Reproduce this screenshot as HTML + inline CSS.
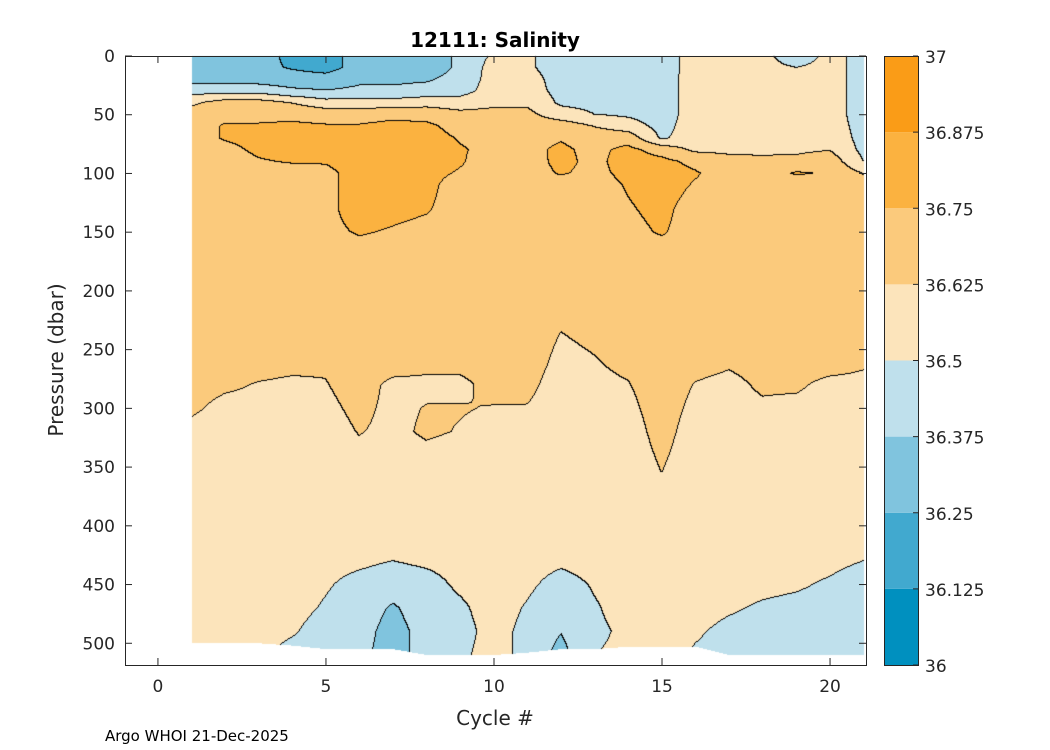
<!DOCTYPE html>
<html><head><meta charset="utf-8"><style>
body{margin:0;background:#fff;width:1050px;height:750px;overflow:hidden;position:relative;font-family:"DejaVu Sans","Liberation Sans",sans-serif}
canvas,svg{position:absolute;left:0;top:0}
svg text{font-family:"DejaVu Sans","Liberation Sans",sans-serif}
</style></head><body>
<canvas id="cv" width="1050" height="750"></canvas>
<svg id="sv" width="1050" height="750"></svg>
<script>
const pressures=[0,10,20,30,40,50,60,70,80,90,100,110,130,150,170,200,230,260,280,300,320,340,360,400,430,450,470,490,510];
const cycles=[1,2,3,4,5,6,7,8,9,10,11,12,13,14,15,16,17,18,19,20,21];
const maxPressure=[500,500,500,502,505,505,505,510,510,510,508,505,505,503,503,503,510,510,510,510,510];
const salinity=[
[36.3,36.3,36.32,36.45,36.6,36.68,36.7,36.7,36.72,36.72,36.7,36.7,36.7,36.7,36.7,36.7,36.7,36.68,36.66,36.64,36.6,36.58,36.57,36.56,36.56,36.56,36.55,36.54,36.54],
[36.3,36.3,36.32,36.45,36.68,36.72,36.76,36.76,36.72,36.7,36.7,36.7,36.7,36.7,36.7,36.7,36.7,36.67,36.64,36.6,36.58,36.57,36.56,36.56,36.56,36.56,36.55,36.54,36.54],
[36.3,36.28,36.32,36.45,36.68,36.72,36.76,36.78,36.77,36.74,36.7,36.7,36.7,36.7,36.7,36.7,36.7,36.66,36.62,36.6,36.58,36.57,36.56,36.56,36.56,36.55,36.54,36.53,36.52],
[36.22,36.24,36.3,36.4,36.62,36.72,36.77,36.78,36.8,36.76,36.7,36.7,36.7,36.7,36.7,36.7,36.7,36.65,36.61,36.6,36.58,36.57,36.56,36.56,36.55,36.54,36.53,36.51,36.47],
[36.2,36.2,36.3,36.38,36.55,36.7,36.76,36.78,36.78,36.76,36.72,36.72,36.72,36.72,36.7,36.7,36.7,36.64,36.62,36.6,36.58,36.57,36.56,36.55,36.53,36.51,36.49,36.46,36.44],
[36.3,36.3,36.35,36.4,36.55,36.7,36.76,36.78,36.8,36.8,36.8,36.8,36.8,36.76,36.7,36.7,36.7,36.68,36.67,36.65,36.63,36.6,36.58,36.56,36.52,36.47,36.44,36.42,36.4],
[36.28,36.3,36.35,36.4,36.55,36.72,36.78,36.8,36.8,36.8,36.8,36.8,36.78,36.74,36.7,36.7,36.7,36.68,36.6,36.6,36.6,36.58,36.57,36.55,36.5,36.44,36.36,36.33,36.33],
[36.3,36.3,36.36,36.42,36.58,36.7,36.78,36.8,36.8,36.8,36.78,36.78,36.76,36.72,36.7,36.7,36.7,36.66,36.6,36.63,36.64,36.6,36.58,36.56,36.52,36.46,36.44,36.42,36.42],
[36.4,36.4,36.42,36.45,36.56,36.66,36.7,36.74,36.76,36.76,36.74,36.7,36.7,36.7,36.7,36.7,36.7,36.66,36.6,36.63,36.62,36.58,36.57,36.56,36.54,36.52,36.48,36.46,36.48],
[36.52,36.55,36.55,36.56,36.6,36.66,36.7,36.72,36.72,36.7,36.7,36.7,36.7,36.7,36.7,36.7,36.7,36.68,36.66,36.62,36.6,36.58,36.57,36.56,36.56,36.56,36.55,36.54,36.54],
[36.52,36.52,36.55,36.56,36.6,36.66,36.7,36.72,36.72,36.7,36.7,36.7,36.7,36.7,36.7,36.7,36.68,36.67,36.65,36.62,36.6,36.58,36.57,36.56,36.54,36.52,36.49,36.47,36.47],
[36.44,36.44,36.45,36.46,36.48,36.55,36.7,36.74,36.77,36.78,36.76,36.7,36.7,36.7,36.7,36.68,36.63,36.6,36.58,36.57,36.57,36.56,36.56,36.56,36.52,36.46,36.42,36.38,36.33],
[36.44,36.44,36.44,36.45,36.47,36.5,36.62,36.7,36.72,36.72,36.72,36.7,36.7,36.7,36.7,36.69,36.65,36.62,36.6,36.58,36.57,36.56,36.56,36.56,36.54,36.51,36.49,36.48,36.5],
[36.44,36.44,36.44,36.44,36.45,36.48,36.56,36.7,36.78,36.8,36.78,36.76,36.74,36.72,36.7,36.7,36.68,36.65,36.62,36.6,36.58,36.57,36.56,36.56,36.56,36.55,36.54,36.52,36.52],
[36.44,36.44,36.44,36.44,36.44,36.44,36.46,36.48,36.7,36.78,36.8,36.8,36.78,36.76,36.7,36.7,36.7,36.7,36.68,36.67,36.66,36.64,36.62,36.58,36.57,36.56,36.55,36.54,36.54],
[36.55,36.55,36.56,36.56,36.56,36.56,36.56,36.57,36.6,36.72,36.76,36.74,36.7,36.7,36.7,36.7,36.7,36.66,36.62,36.6,36.58,36.57,36.56,36.56,36.55,36.54,36.53,36.51,36.49],
[36.56,36.56,36.56,36.56,36.56,36.56,36.57,36.58,36.6,36.66,36.7,36.7,36.7,36.7,36.7,36.7,36.7,36.64,36.6,36.59,36.58,36.57,36.56,36.56,36.54,36.53,36.51,36.48,36.47],
[36.56,36.56,36.56,36.56,36.56,36.56,36.57,36.58,36.6,36.65,36.7,36.7,36.7,36.7,36.7,36.7,36.7,36.66,36.64,36.61,36.59,36.57,36.56,36.56,36.54,36.52,36.49,36.47,36.46],
[36.38,36.5,36.56,36.56,36.56,36.56,36.57,36.58,36.6,36.66,36.76,36.7,36.7,36.7,36.7,36.7,36.7,36.67,36.64,36.6,36.58,36.57,36.56,36.56,36.53,36.51,36.48,36.46,36.46],
[36.56,36.56,36.56,36.56,36.56,36.56,36.57,36.58,36.62,36.7,36.74,36.7,36.7,36.7,36.7,36.7,36.7,36.67,36.6,36.59,36.58,36.57,36.56,36.56,36.52,36.49,36.47,36.46,36.46],
[36.44,36.44,36.44,36.44,36.44,36.44,36.45,36.46,36.47,36.5,36.62,36.66,36.68,36.7,36.7,36.7,36.7,36.64,36.6,36.59,36.58,36.57,36.56,36.55,36.5,36.46,36.45,36.45,36.45]
];
const levels=[36,36.125,36.25,36.375,36.5,36.625,36.75,36.875,37];
const levelLabels=["36","36.125","36.25","36.375","36.5","36.625","36.75","36.875","37"];
const xTicks=[0,5,10,15,20];
const yTicks=[0,50,100,150,200,250,300,350,400,450,500];
const colors=["#0090bf","#41a9cf","#80c4de","#bfe0ec","#fce4bb","#fbca7c","#fbb240","#fa9c17"];

const L=125,T=56,W=741,H=609;
const xMin=-0.98,xMax=21.07,yMin=0,yMax=518.5;
const sx=v=>L+(v-xMin)/(xMax-xMin)*W;
const sy=v=>T+(v-yMin)/(yMax-yMin)*H;
const ix=px=>xMin+(px-L)/W*(xMax-xMin);
const iy=py=>yMin+(py-T)/H*(yMax-yMin);

function sample(c,p){
  if(c<cycles[0]||c>cycles[cycles.length-1])return NaN;
  let i=Math.min(Math.floor(c-cycles[0]),cycles.length-2);let fx=c-cycles[i];
  const mp=maxPressure[i]*(1-fx)+maxPressure[i+1]*fx;
  if(p>mp)return NaN;
  let j=0;while(j<pressures.length-2&&pressures[j+1]<p)j++;
  let fy=(p-pressures[j])/(pressures[j+1]-pressures[j]);fy=Math.max(0,Math.min(1,fy));
  const a=salinity[i][j],b=salinity[i+1][j],c2=salinity[i][j+1],d=salinity[i+1][j+1];
  return (a*(1-fx)+b*fx)*(1-fy)+(c2*(1-fx)+d*fx)*fy;
}
function lev(v){if(isNaN(v))return -1;let k=0;while(k<7&&v>=levels[k+1])k++;return k;}
const cv=document.getElementById('cv'),ctx=cv.getContext('2d');
const img=ctx.createImageData(W,H);
const map=new Int8Array(W*H);
for(let y=0;y<H;y++)for(let x=0;x<W;x++)map[y*W+x]=lev(sample(ix(L+x+0.5),iy(T+y+0.5)));
const rgb=colors.map(h=>[parseInt(h.slice(1,3),16),parseInt(h.slice(3,5),16),parseInt(h.slice(5,7),16)]);
for(let y=0;y<H;y++)for(let x=0;x<W;x++){
  const k=map[y*W+x];let c=[255,255,255];
  if(k>=0){c=rgb[k];
    const r=x<W-1?map[y*W+x+1]:k,d=y<H-1?map[(y+1)*W+x]:k;
    if((r>=0&&r!==k)||(d>=0&&d!==k))c=[0,0,0];}
  const o=(y*W+x)*4;img.data[o]=c[0];img.data[o+1]=c[1];img.data[o+2]=c[2];img.data[o+3]=255;
}
ctx.putImageData(img,L,T);

const NS="http://www.w3.org/2000/svg",sv=document.getElementById('sv');
function el(t,a,txt){const e=document.createElementNS(NS,t);for(const k in a)e.setAttribute(k,a[k]);if(txt!==undefined)e.textContent=txt;sv.appendChild(e);return e;}
let e;
e=el('rect',{x:L+0.5,y:T+0.5,width:W,height:H,fill:'none',stroke:'#262626','stroke-width':1});


xTicks.forEach(v=>{const x=sx(v);
  e=el('line',{x1:x,y1:T+H,x2:x,y2:T+H-7,stroke:'#262626'});
  
  
  e=el('line',{x1:x,y1:T,x2:x,y2:T+7,stroke:'#262626'});
  
  
  e=el('text',{x:x,y:T+H+27,'text-anchor':'middle','font-size':17,fill:'#262626'},v);
  
  
});
yTicks.forEach(v=>{const y=sy(v);
  e=el('line',{x1:L,y1:y,x2:L+7,y2:y,stroke:'#262626'});
  
  
  e=el('line',{x1:L+W,y1:y,x2:L+W-7,y2:y,stroke:'#262626'});
  
  
  e=el('text',{x:L-10,y:y+6,'text-anchor':'end','font-size':17,fill:'#262626'},v);
  
  
});
e=el('text',{x:495,y:47,'text-anchor':'middle','font-size':20,'font-weight':'bold',fill:'#000','xml:space':'preserve'},'12111:  Salinity');


e=el('text',{x:495,y:725,'text-anchor':'middle','font-size':20,fill:'#262626'},'Cycle #');


e=el('text',{x:63,y:360,'text-anchor':'middle','font-size':20,fill:'#262626',transform:'rotate(-90 63 360)'},'Pressure (dbar)');


e=el('text',{x:105,y:741,'font-size':15,fill:'#000'},'Argo WHOI 21-Dec-2025');


const cbL=884,cbW=34,cbT=56,cbH=609;
const cy=v=>cbT+cbH-(v-levels[0])/(levels[8]-levels[0])*cbH;
colors.forEach((c,k)=>{
  e=el('rect',{x:cbL,y:cy(levels[k+1]),width:cbW,height:cy(levels[k])-cy(levels[k+1]),fill:c});
  
  
});
e=el('rect',{x:cbL+0.5,y:cbT+0.5,width:cbW,height:cbH,fill:'none',stroke:'#262626'});


levels.forEach((v,k)=>{const y=cy(v);
  e=el('line',{x1:cbL+cbW-5,y1:y,x2:cbL+cbW,y2:y,stroke:'#262626'});
  
  
  e=el('text',{x:925,y:y+7,'font-size':17,fill:'#262626'},levelLabels[k]);
  
  
});
</script>
</body></html>
